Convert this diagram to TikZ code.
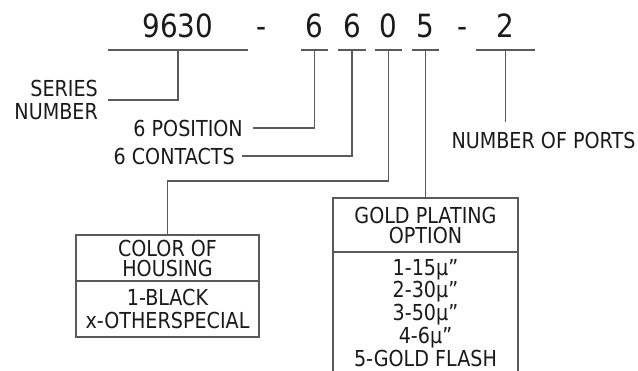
\documentclass[tikz,border=0pt]{standalone}
\usepackage{fontspec}
\setmainfont{DejaVu Sans}[FakeStretch=0.87]
\usetikzlibrary{positioning}
\definecolor{ink}{HTML}{1A1A1A}
\definecolor{leadgray}{HTML}{5A5A5A}
\newcommand\lblfont{\fontsize{22}{20}\selectfont}
\newcommand\numfont{\fontsize{32}{32}\selectfont}

\begin{document}
\begin{tikzpicture}[x=1pt, y=-1pt,
  digit/.style={font=\numfont, text=ink, anchor=south, text height=23pt,
                text depth=0pt, inner xsep=0pt, inner ysep=12pt},
  lbl/.style={font=\lblfont, text=ink, inner xsep=10pt, inner ysep=10pt},
  onelbl/.style={lbl, text height=16pt, text depth=0pt},
  cell/.style={draw=leadgray, line width=1.3pt, outer sep=0pt, font=\lblfont,
               text=ink, align=center, inner sep=0pt},
  lead/.style={leadgray, line width=1.3pt}
]
  \useasboundingbox (0,0) rectangle (638,370);
  \clip (0,0) rectangle (638,370);

  % ── Part number ──
  \node[digit, minimum width=140pt] (ser) at (178,50) {9630};
  \node[digit] (dash1) at (262,50) {-};
  \node[digit, minimum width=27pt] (pos) at (314.5,50) {6};
  \node[digit, minimum width=28pt] (con) at (352,50) {6};
  \node[digit, minimum width=27pt] (col) at (388.5,50) {0};
  \node[digit, minimum width=27pt] (plt) at (425.5,50) {5};
  \node[digit] (dash2) at (463,50) {-};
  \node[digit, minimum width=59pt] (prt) at (505.5,50) {2};
  \foreach \n in {ser,pos,con,col,plt,prt}
    \draw[lead] (\n.south west) -- (\n.south east);

  % ── Labels ──
  \node[lbl, align=right, anchor=east] (serlbl) at (108,100) {SERIES\\[3pt]NUMBER};
  \node[onelbl, anchor=east] (poslbl) at (253,128) {6 POSITION};
  \node[onelbl, anchor=east, inner xsep=7pt] (conlbl) at (242,156) {6 CONTACTS};
  \node[onelbl] (prtlbl) at (543.5,140) {NUMBER OF PORTS};

  % ── Option boxes ──
  \node[cell, minimum width=183pt, minimum height=46pt] (colhead) at (167.5,258)
    {COLOR OF\\HOUSING};
  \node[cell, minimum width=183pt, minimum height=56pt, below=0pt of colhead] (colbody)
    {1-BLACK\\[3pt]x-OTHERSPECIAL};
  \node[cell, minimum width=185pt, minimum height=54pt] (plthead) at (425.5,225)
    {GOLD PLATING\\OPTION};
  \node[cell, minimum width=185pt, minimum height=122pt, below=0pt of plthead] (pltbody)
    {1-15μ”\\[1pt]2-30μ”\\[1pt]3-50μ”\\[1pt]4-6μ”\\[1pt]5-GOLD FLASH};

  % ── Leaders ──
  \coordinate (colbend) at (167.5,181);
  \draw[lead] (ser.south) |- (serlbl.east);
  \draw[lead] (pos.south) |- (poslbl.east);
  \draw[lead] (con.south) |- (conlbl.east);
  \draw[lead] (col.south) |- (colbend) -- (colhead.north);
  \draw[lead] (plt.south) -- (plthead.north);
  \draw[lead] (prt.south) -- (prt.south |- prtlbl.north);
\end{tikzpicture}
\end{document}
